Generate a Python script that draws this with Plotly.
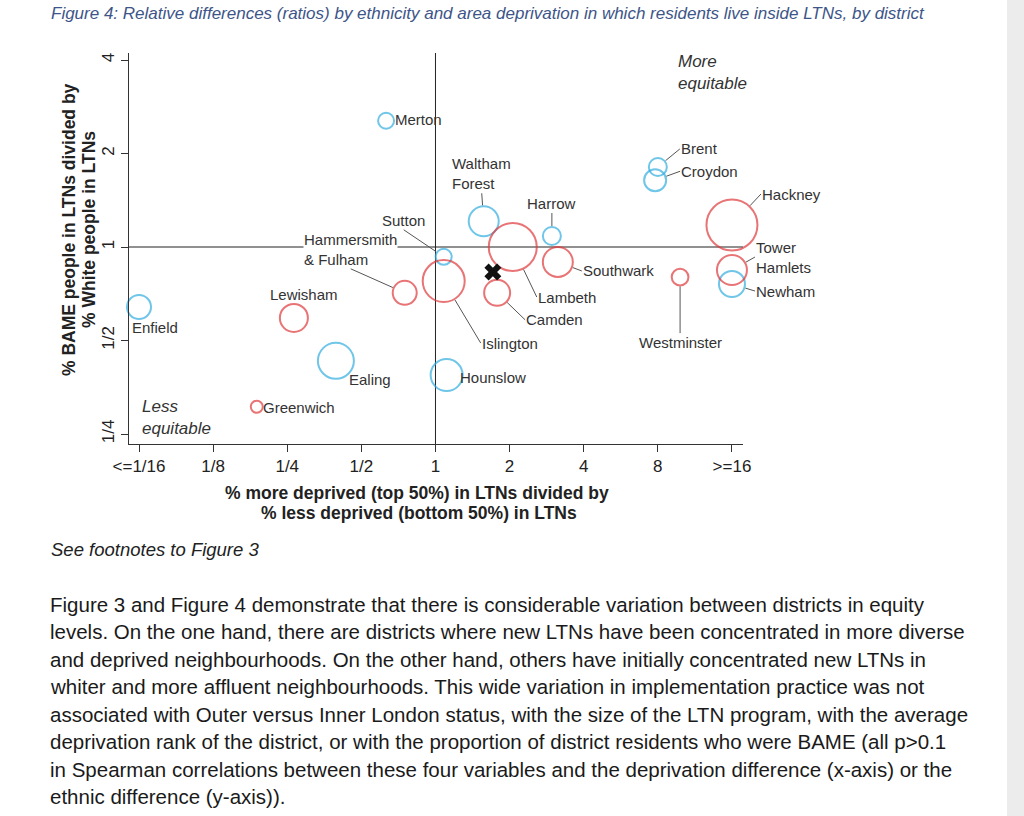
import math
import plotly.graph_objects as go

# ---------------- data ----------------
districts = ["Merton", "Brent", "Croydon", "Waltham Forest", "Harrow", "Lambeth",
             "Sutton", "Islington", "Southwark", "Camden", "Hammersmith & Fulham",
             "Hackney", "Tower Hamlets", "Newham", "Westminster", "Enfield",
             "Lewisham", "Ealing", "Greenwich", "Hounslow"]
deprivation_ratio = [0.63, 8.0, 7.8, 1.57, 2.97, 2.06,
                     1.08, 1.08, 3.14, 1.78, 0.75,
                     16.0, 16.0, 16.0, 9.85, 0.0625,
                     0.266, 0.394, 0.188, 1.11]
ethnicity_ratio = [2.55, 1.81, 1.64, 1.21, 1.085, 1.0,
                   0.93, 0.777, 0.895, 0.712, 0.712,
                   1.177, 0.843, 0.76, 0.80, 0.641,
                   0.591, 0.43, 0.306, 0.387]
ltn_residents = [6.4, 8.1, 12.1, 22.5, 8.1, 57.6,
                 6.4, 44.1, 22.5, 16.9, 14.4,
                 65.0, 22.5, 16.9, 7.0, 14.4,
                 19.6, 32.4, 3.6, 25.6]
london_zone = ["Outer", "Outer", "Outer", "Outer", "Outer", "Inner",
               "Outer", "Inner", "Inner", "Inner", "Inner",
               "Inner", "Inner", "Outer", "Inner", "Outer",
               "Inner", "Outer", "Inner", "Outer"]
overall_deprivation_ratio = [1.71]
overall_ethnicity_ratio = [0.831]

x_tick_values = [1/16, 1/8, 1/4, 1/2, 1, 2, 4, 8, 16]
x_tick_labels = ["&lt;=1/16", "1/8", "1/4", "1/2", "1", "2", "4", "8", "&gt;=16"]
y_tick_values = [1/4, 1/2, 1, 2, 4]
y_tick_labels = ["1/4", "1/2", "1", "2", "4"]

# ---------------- layout geometry ----------------
FIG_W, FIG_H = 1024, 816
L, R, T, B = 129, 743, 53, 444
W, H = R - L, B - T
X_RANGE = [-4.135 * math.log10(2), 4.149 * math.log10(2)]
Y_RANGE = [-2.107 * math.log10(2), 2.075 * math.log10(2)]


def px_x(p):
    return (p - L) / W


def px_y(p):
    return (B - p) / H


FONT = "Liberation Sans, Arial, Helvetica, sans-serif"
TXT = "#333333"
zone_colors = {"Outer": "#33aee0", "Inner": "#df3a3c"}
SIZEREF = 0.05


def radius(v):
    return math.sqrt(v / (2 * SIZEREF))


fig = go.Figure()

for zone in ["Outer", "Inner"]:
    idx = [i for i, z in enumerate(london_zone) if z == zone]
    fig.add_trace(go.Scatter(
        x=[deprivation_ratio[i] for i in idx],
        y=[ethnicity_ratio[i] for i in idx],
        mode="markers", cliponaxis=False,
        marker=dict(size=[ltn_residents[i] for i in idx], sizemode="area",
                    sizeref=SIZEREF, color="rgba(0,0,0,0)",
                    line=dict(color=zone_colors[zone], width=2)),
        text=[districts[i] for i in idx], hoverinfo="text", showlegend=False))

fig.add_trace(go.Scatter(
    x=overall_deprivation_ratio, y=overall_ethnicity_ratio, mode="markers",
    cliponaxis=False,
    marker=dict(symbol="x", size=15, color="#111111", line=dict(width=0)),
    hoverinfo="skip", showlegend=False))

# reference lines at ratio 1
shapes = [
    dict(type="line", xref="paper", x0=0, x1=1, yref="y", y0=1, y1=1,
         line=dict(color="#222222", width=1), layer="below"),
    dict(type="line", xref="x", x0=1, x1=1, yref="paper", y0=0, y1=1,
         line=dict(color="#222222", width=1), layer="below"),
    dict(type="rect", xref="paper", yref="paper", x0=px_x(1007), x1=px_x(1024),
         y0=px_y(816), y1=px_y(0), fillcolor="#ececec", line=dict(width=0),
         layer="below"),
]

# label placement: (text, ax, ay, xanchor, yanchor) with leader lines,
# or (text, xshift, yshift, xanchor) without
leader_labels = {
    "Brent": ("Brent", 22, -18, "left", "middle"),
    "Croydon": ("Croydon", 25, -9, "left", "middle"),
    "Hackney": ("Hackney", 29, -31, "left", "middle"),
    "Tower Hamlets": ("Tower<br>Hamlets", 23, -13, "left", "middle"),
    "Newham": ("Newham", 23, 7, "left", "middle"),
    "Westminster": ("Westminster", 0, 56, "center", "top"),
    "Southwark": ("Southwark", 24, 9, "left", "middle"),
    "Lambeth": ("Lambeth", 24, 50, "left", "middle"),
    "Camden": ("Camden", 28, 27, "left", "middle"),
    "Islington": ("Islington", 37, 62, "left", "middle"),
    "Harrow": ("Harrow", 0, -23, "center", "bottom"),
    "Waltham Forest": ("Waltham<br>Forest", -2, -28, "center", "bottom"),
    "Sutton": ("Sutton", -40, -27, "center", "bottom"),
    "Hammersmith & Fulham": ("Hammersmith<br>&amp; Fulham", -54, -24, "center", "bottom"),
}
plain_labels = {
    "Merton": ("Merton", 8, 1, "left"),
    "Hounslow": ("Hounslow", 12, -2, "left"),
    "Lewisham": ("Lewisham", 10, 23, "center"),
    "Enfield": ("Enfield", -8, -21, "left"),
    "Ealing": ("Ealing", 12, -19, "left"),
    "Greenwich": ("Greenwich", 5, -1, "left"),
}

annotations = []
lab_font = dict(family=FONT, size=15, color=TXT)
for i, name in enumerate(districts):
    lx = math.log10(deprivation_ratio[i])
    ly = math.log10(ethnicity_ratio[i])
    if name in leader_labels:
        text, ax, ay, xa, ya = leader_labels[name]
        annotations.append(dict(
            x=lx, y=ly, xref="x", yref="y", text=text, showarrow=True,
            arrowhead=0, arrowwidth=1, arrowcolor="#555555", ax=ax, ay=ay,
            standoff=radius(ltn_residents[i]) + 1, xanchor=xa, yanchor=ya,
            align="left", font=lab_font, borderpad=0,
            bgcolor="white" if name == "Hammersmith & Fulham" else None))
    else:
        text, xs, ys, xa = plain_labels[name]
        annotations.append(dict(
            x=lx, y=ly, xref="x", yref="y", text=text, showarrow=False,
            xshift=xs, yshift=ys, xanchor=xa, yanchor="middle", font=lab_font,
            borderpad=0))

# corner notes
annotations.append(dict(xref="paper", yref="paper", x=px_x(676), y=px_y(72.5),
                        text="<i>More<br>equitable</i>", showarrow=False,
                        xanchor="left", yanchor="middle", align="left",
                        font=dict(family=FONT, size=17, color=TXT)))
annotations.append(dict(xref="paper", yref="paper", x=px_x(140), y=px_y(417),
                        text="<i>Less<br>equitable</i>", showarrow=False,
                        xanchor="left", yanchor="middle", align="left",
                        font=dict(family=FONT, size=17, color=TXT)))

# axis titles
bold = dict(family=FONT, size=17.5, color="#222222")
annotations.append(dict(xref="paper", yref="paper", x=px_x(417), y=px_y(493),
                        text="<b>% more deprived (top 50%) in LTNs divided by</b>",
                        showarrow=False, xanchor="center", yanchor="middle", font=bold))
annotations.append(dict(xref="paper", yref="paper", x=px_x(419), y=px_y(513),
                        text="<b>% less deprived (bottom 50%) in LTNs</b>",
                        showarrow=False, xanchor="center", yanchor="middle", font=bold))
annotations.append(dict(xref="paper", yref="paper", x=px_x(69), y=px_y(230),
                        text="<b>% BAME people in LTNs divided by</b>", textangle=-90,
                        showarrow=False, xanchor="center", yanchor="middle", font=bold))
annotations.append(dict(xref="paper", yref="paper", x=px_x(89), y=px_y(230),
                        text="<b>% White people in LTNs</b>", textangle=-90,
                        showarrow=False, xanchor="center", yanchor="middle", font=bold))

# title and surrounding page text
annotations.append(dict(xref="paper", yref="paper", x=px_x(49), y=px_y(14),
                        text="<i>Figure 4: Relative differences (ratios) by ethnicity and area "
                             "deprivation in which residents live inside LTNs, by district</i>",
                        showarrow=False, xanchor="left", yanchor="middle",
                        font=dict(family=FONT, size=17, color="#3d5588")))
annotations.append(dict(xref="paper", yref="paper", x=px_x(49), y=px_y(549),
                        text="<i>See footnotes to Figure 3</i>", showarrow=False,
                        xanchor="left", yanchor="middle",
                        font=dict(family=FONT, size=18.5, color="#222222")))

body_lines = [
    "Figure 3 and Figure 4 demonstrate that there is considerable variation between districts in equity",
    "levels. On the one hand, there are districts where new LTNs have been concentrated in more diverse",
    "and deprived neighbourhoods. On the other hand, others have initially concentrated new LTNs in",
    "whiter and more affluent neighbourhoods. This wide variation in implementation practice was not",
    "associated with Outer versus Inner London status, with the size of the LTN program, with the average",
    "deprivation rank of the district, or with the proportion of district residents who were BAME (all p&gt;0.1",
    "in Spearman correlations between these four variables and the deprivation difference (x-axis) or the",
    "ethnic difference (y-axis)).",
]
for k, line in enumerate(body_lines):
    annotations.append(dict(xref="paper", yref="paper", x=px_x(48), y=px_y(604 + k * 27.57),
                            text=line, showarrow=False, xanchor="left", yanchor="middle",
                            font=dict(family=FONT, size=20.5, color="#1a1a1a")))

axis_common = dict(type="log", showgrid=False, zeroline=False, showline=True,
                   linecolor="#333333", linewidth=1, ticks="outside", ticklen=7,
                   tickcolor="#333333", tickfont=dict(family=FONT, size=17, color="#222222"))

fig.update_layout(
    width=FIG_W, height=FIG_H,
    margin=dict(l=L, r=FIG_W - R, t=T, b=FIG_H - B, pad=0),
    paper_bgcolor="white", plot_bgcolor="white",
    xaxis=dict(range=X_RANGE, tickmode="array", tickvals=x_tick_values,
               ticktext=x_tick_labels, **axis_common),
    yaxis=dict(range=Y_RANGE, tickmode="array", tickvals=y_tick_values,
               ticktext=y_tick_labels, tickangle=-90, **axis_common),
    shapes=shapes, annotations=annotations, hovermode="closest",
)

fig.write_html("out.html", config={"displayModeBar": False},
               post_script="document.body.style.margin='0';document.body.style.overflow='hidden';")
